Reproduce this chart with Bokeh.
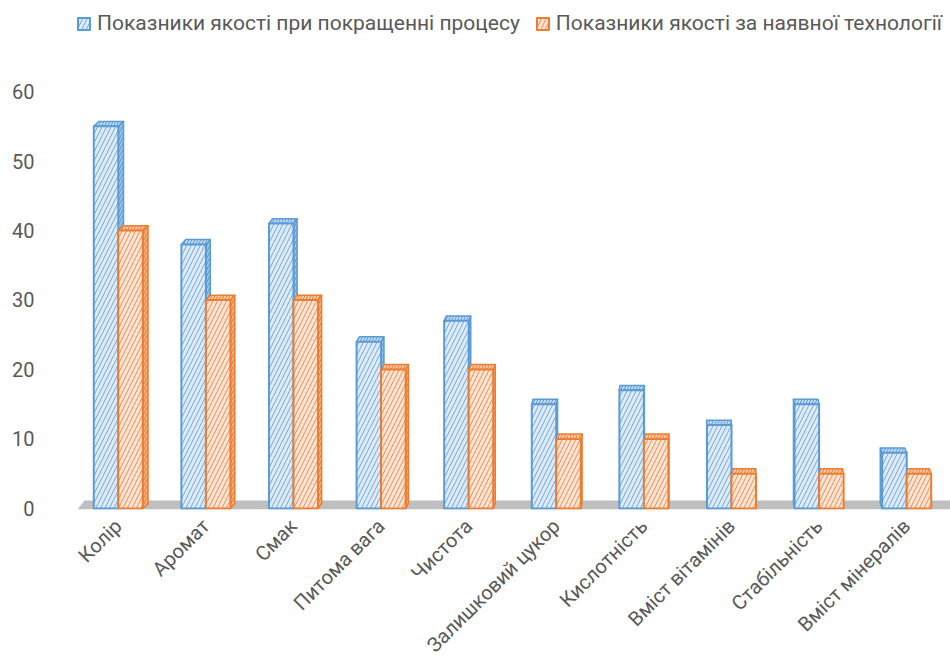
import math
from bokeh.plotting import figure
from bokeh.models import Range1d, FixedTicker, Legend, LegendItem, ColumnDataSource
from bokeh.embed import file_html
from bokeh.resources import INLINE

categories = ["Колір", "Аромат", "Смак", "Питома вага", "Чистота",
              "Залишковий цукор", "Кислотність", "Вміст вітамінів",
              "Стабільність", "Вміст мінералів"]
improved = [55, 38, 41, 24, 27, 15, 17, 12, 15, 8]
current = [40, 30, 30, 20, 20, 10, 10, 5, 5, 5]
y_ticks = [0, 10, 20, 30, 40, 50, 60]
series_names = ["Показники якості при покращенні процесу",
                "Показники якості за наявної технології"]

# geometry / style constants
BW = 0.28      # bar width (category units)
DY = 0.7       # 3D depth, vertical (data units)
VANISH = 6.6   # category index of vanishing point
K = 0.009      # horizontal depth per category distance
TXT = "#595959"
FONT = "Roboto"


def build(values, side):
    front = dict(left=[], right=[], top=[], bottom=[])
    sx, sy, tx, ty = [], [], [], []
    for i, v in enumerate(values):
        if side < 0:
            x0, x1 = i - BW, i
        else:
            x0, x1 = i, i + BW
        dx = K * (VANISH - i)
        front["left"].append(x0)
        front["right"].append(x1)
        front["top"].append(v)
        front["bottom"].append(0)
        xe = x1 if dx > 0 else x0
        sx.append([xe, xe + dx, xe + dx, xe])
        sy.append([0, DY, v + DY, v])
        tx.append([x0, x1, x1 + dx, x0 + dx])
        ty.append([v, v, v + DY, v + DY])
    return front, dict(xs=sx, ys=sy), dict(xs=tx, ys=ty)


p = figure(width=950, height=672, output_backend="svg", toolbar_location=None,
           x_range=Range1d(-0.5, 9.5), y_range=Range1d(-0.15, 73.1),
           min_border_left=74, min_border_right=0, min_border_top=0,
           min_border_bottom=163)
p.outline_line_color = None
p.xgrid.visible = False
p.ygrid.visible = False
p.background_fill_color = "white"
p.border_fill_color = "white"

# floor
p.patch(x=[-0.466, 9.7, 9.7, -0.386], y=[-0.15, -0.15, 1.15, 1.15],
        fill_color="#BFBFBF", line_color=None)

styles = [
    dict(front="#DEEBF7", top="#C5DCF0", side="#9DC3E6", line="#5B9BD5"),
    dict(front="#FCE4D6", top="#F8CBAD", side="#F4B183", line="#ED7D31"),
]
data = [build(improved, -1), build(current, +1)]

for (front, side, top), st in zip(data, styles):
    p.patches(xs="xs", ys="ys", source=ColumnDataSource(side),
              fill_color=st["side"], line_color=st["line"], line_width=1.5,
              line_join="round", hatch_pattern="/", hatch_color=st["line"],
              hatch_scale=6, hatch_weight=1)
for (front, side, top), st in zip(data, styles):
    p.patches(xs="xs", ys="ys", source=ColumnDataSource(top),
              fill_color=st["top"], line_color=st["line"], line_width=1.5,
              line_join="round", hatch_pattern="/", hatch_color=st["line"],
              hatch_scale=6, hatch_weight=1)
fronts = []
for (front, side, top), st in zip(data, styles):
    r = p.quad(left="left", right="right", top="top", bottom="bottom",
               source=ColumnDataSource(front),
               fill_color=st["front"], line_color=st["line"], line_width=2,
               line_join="round", hatch_pattern="/", hatch_color=st["line"],
               hatch_scale=9, hatch_weight=1, hatch_alpha=0.85)
    fronts.append(r)

# axes
p.yaxis.ticker = FixedTicker(ticks=y_ticks)
p.yaxis.axis_line_color = None
p.yaxis.major_tick_line_color = None
p.yaxis.minor_tick_line_color = None
p.yaxis.major_label_text_font = FONT
p.yaxis.major_label_text_font_size = "20px"
p.yaxis.major_label_text_color = TXT
p.yaxis.major_label_standoff = 34

p.xaxis.ticker = FixedTicker(ticks=list(range(len(categories))))
p.xaxis.major_label_overrides = {i: c for i, c in enumerate(categories)}
p.xaxis.axis_line_color = None
p.xaxis.major_tick_line_color = None
p.xaxis.minor_tick_line_color = None
p.xaxis.major_label_orientation = math.pi / 4
p.xaxis.major_label_text_font = FONT
p.xaxis.major_label_text_font_size = "20px"
p.xaxis.major_label_text_color = TXT
p.xaxis.major_label_standoff = 7

legend = Legend(items=[LegendItem(label=series_names[0], renderers=[fronts[0]]),
                       LegendItem(label=series_names[1], renderers=[fronts[1]])],
                orientation="horizontal", location=(2, 473),
                border_line_color=None, background_fill_alpha=0,
                label_text_font=FONT, label_text_font_size="21px",
                label_text_color=TXT, glyph_width=15, glyph_height=15,
                label_standoff=6, spacing=15, padding=0, margin=0,
                label_height=26)
p.add_layout(legend)

open("out.html", "w").write(file_html(p, INLINE))
